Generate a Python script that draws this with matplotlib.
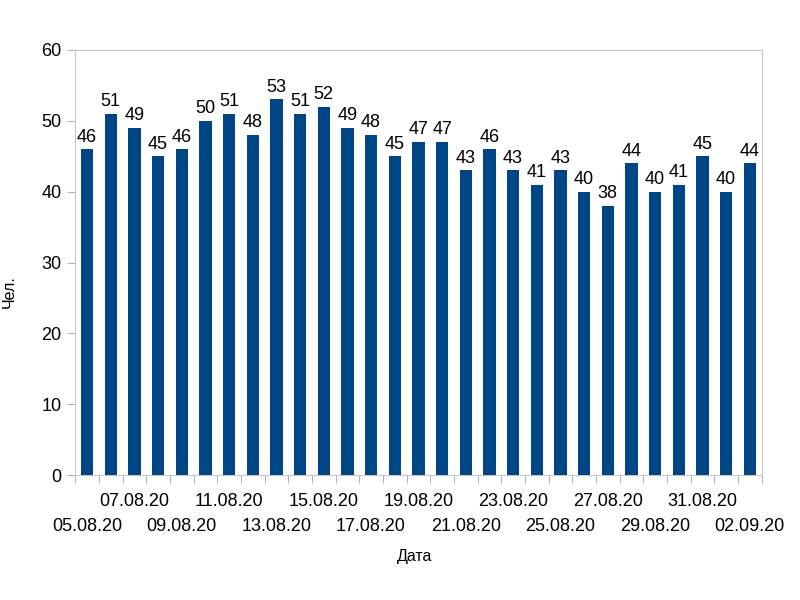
import matplotlib
matplotlib.use("Agg")
import numpy as np
import matplotlib.pyplot as plt

plt.rcParams['font.family'] = ['Liberation Sans', 'DejaVu Sans']

dates = ['05.08.20', '06.08.20', '07.08.20', '08.08.20', '09.08.20', '10.08.20',
         '11.08.20', '12.08.20', '13.08.20', '14.08.20', '15.08.20', '16.08.20',
         '17.08.20', '18.08.20', '19.08.20', '20.08.20', '21.08.20', '22.08.20',
         '23.08.20', '24.08.20', '25.08.20', '26.08.20', '27.08.20', '28.08.20',
         '29.08.20', '30.08.20', '31.08.20', '01.09.20', '02.09.20']
counts = [46, 51, 49, 45, 46, 50, 51, 48, 53, 51, 52, 49, 48, 45, 47, 47, 43, 46,
          43, 41, 43, 40, 38, 44, 40, 41, 45, 40, 44]

fig = plt.figure(figsize=(8, 6), dpi=100)
ax = fig.add_axes([0.094, 0.208, 0.858, 0.709])

x = np.arange(len(counts))
ax.bar(x, counts, width=0.52, color='#004586', zorder=3)
for xi, v in zip(x, counts):
    ax.text(xi, v + 0.5, str(v), ha='center', va='bottom', fontsize=13, color='#000000')

ax.set_xlim(-0.5, len(counts) - 0.5)
ax.set_ylim(0, 60)
ax.set_yticks(range(0, 61, 10))
ax.tick_params(axis='y', labelsize=13, length=6, color='#b3b3b3', pad=4)

# category boundary ticks
ax.set_xticks(np.arange(-0.5, len(counts), 1.0))
ax.tick_params(axis='x', which='major', length=6, color='#b3b3b3', labelbottom=False)
# labels, every other, staggered in two rows
for i in range(0, len(dates), 2):
    off = -31 if (i // 2) % 2 == 0 else -13
    ax.annotate(dates[i], (i, 0), xycoords=('data', 'axes fraction'),
                xytext=(0, off), textcoords='offset points',
                ha='center', va='top', fontsize=13)

for s in ['left', 'right', 'bottom', 'top']:
    ax.spines[s].set_color('#c8c8c8')

fig.text(9 / 800, 1 - 292 / 600, 'Чел.', rotation=90, ha='center', va='center', fontsize=11.5)
fig.text(415 / 800, 1 - 557 / 600, 'Дата', ha='center', va='center', fontsize=11.5)

fig.savefig('out.png', dpi=100)
